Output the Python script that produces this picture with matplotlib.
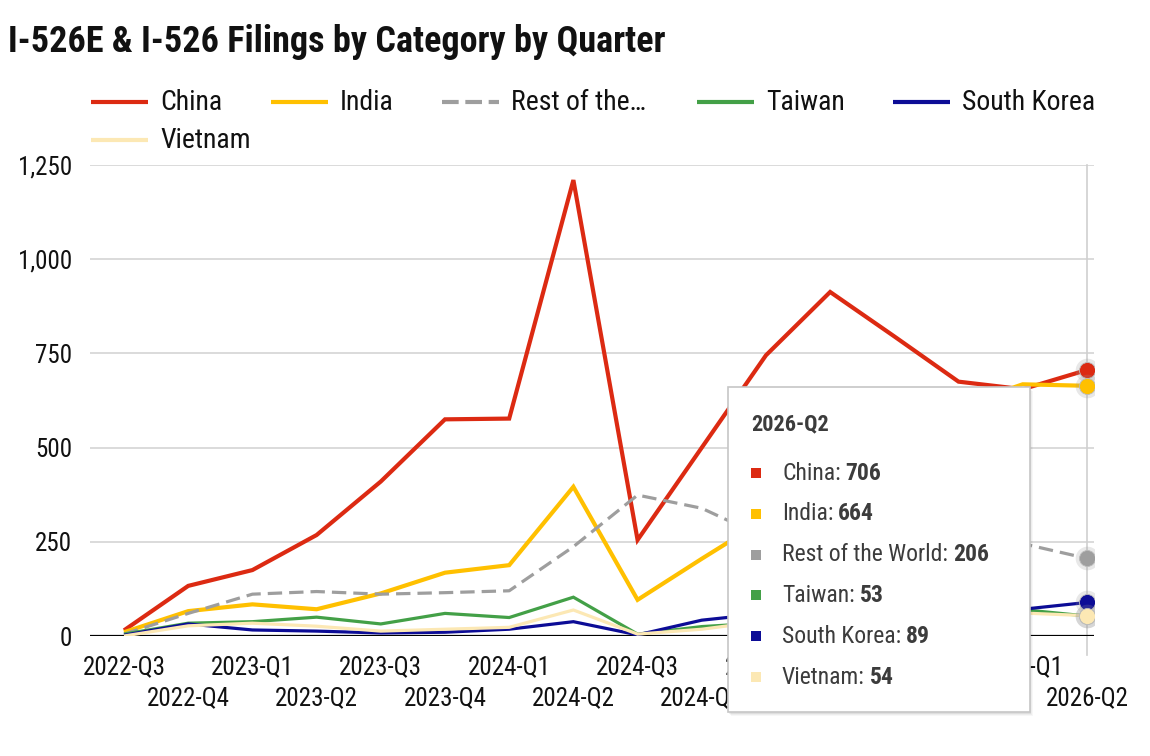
import matplotlib
matplotlib.use("Agg")
import matplotlib.pyplot as plt
from matplotlib.patches import Rectangle

# fonts: condensed Roboto if available
plt.rcParams['font.family'] = ['Roboto Condensed', 'Roboto', 'DejaVu Sans']

# data
quarters = ['2022-Q3', '2022-Q4', '2023-Q1', '2023-Q2', '2023-Q3', '2023-Q4',
            '2024-Q1', '2024-Q2', '2024-Q3', '2024-Q4', '2025-Q1', '2025-Q2',
            '2025-Q3', '2025-Q4', '2026-Q1', '2026-Q2']
china = [15, 133, 175, 268, 410, 575, 577, 1210, 255, 500, 745, 913, 795, 675, 655, 706]
india = [10, 66, 84, 71, 113, 168, 188, 396, 96, 205, 311, 420, 520, 610, 668, 664]
rest_of_world = [5, 60, 111, 118, 111, 115, 120, 237, 374, 339, 260, 290, 270, 255, 245, 206]
taiwan = [5, 34, 38, 50, 32, 60, 49, 103, 5, 25, 35, 45, 55, 62, 70, 53]
south_korea = [2, 32, 16, 13, 8, 10, 18, 38, 3, 42, 60, 55, 60, 65, 71, 89]
vietnam = [0, 27, 34, 26, 13, 18, 23, 69, 5, 18, 40, 45, 50, 55, 61, 54]

names = ['China', 'India', 'Rest of the World', 'Taiwan', 'South Korea', 'Vietnam']
legend_names = ['China', 'India', 'Rest of the\u2026', 'Taiwan', 'South Korea', 'Vietnam']
series = [china, india, rest_of_world, taiwan, south_korea, vietnam]
colors = ['#DC2A12', '#FFC000', '#9E9E9E', '#43A047', '#0C0C96', '#FCE8B4']
widths = [3.0, 3.0, 2.3, 2.3, 2.3, 2.3]
dashed = [False, False, True, False, False, False]
yticks = [0, 250, 500, 750, 1000, 1250]

W, H = 1150, 756
fig = plt.figure(figsize=(W / 100, H / 100), dpi=100)
ax = fig.add_axes([90 / W, (H - 636) / H, (1094 - 90) / W, (636 - 165) / H])

x = list(range(len(quarters)))
for i, (vals, col, lw, dsh) in enumerate(zip(series, colors, widths, dashed)):
    ln, = ax.plot(x, vals, color=col, lw=lw, zorder=3 + i, solid_joinstyle='miter',
                  solid_capstyle='butt')
    if dsh:
        ln.set_dashes((4.5, 2.2))
    # highlighted last point
    ax.plot(x[-1], vals[-1], 'o', ms=17, color='#999999', alpha=0.22, mew=0, zorder=10 + i)
    ax.plot(x[-1], vals[-1], 'o', ms=11.5, color=col, mew=0.6, mec='#bbbbbb', zorder=11 + i)

ax.set_xlim(-0.53, 15.11)
ax.set_ylim(0, 1250)
ax.set_yticks(yticks, labels=[f'{v:,}' for v in yticks])
ax.set_xticks(x, labels=[])
ax.tick_params(axis='both', length=0)
ax.tick_params(axis='y', pad=13, labelsize=18, labelcolor='#111111')
ax.grid(axis='y', color='#d4d4d4', lw=1.2)
ax.set_axisbelow(True)
for s in ax.spines.values():
    s.set_visible(False)
ax.axhline(0, color='black', lw=1.6, zorder=2)
ax.axvline(x[-1], ymin=-0.04, ymax=1.0, color='#cfcfcf', lw=1.2, zorder=1, clip_on=False)

# two-row x labels
for i, q in enumerate(quarters):
    yy = -0.066 if i % 2 == 0 else -0.132
    ax.text(i, yy, q, transform=ax.get_xaxis_transform(), ha='center', va='center',
            fontsize=18, color='#111111')

# title
fig.text(8 / W, 1 - 42 / H, 'I-526E & I-526 Filings by Category by Quarter',
         fontsize=26, fontweight='bold', va='center', ha='left', color='#111111')

# overlay in pixel coords for legend and tooltip
ov = fig.add_axes([0, 0, 1, 1], zorder=20)
ov.set_xlim(0, W)
ov.set_ylim(H, 0)
ov.axis('off')

leg_pos = [(160, 102), (340, 102), (511, 102), (766, 102), (962, 102), (160, 140)]
for (tx, ty), name, col, dsh in zip(leg_pos, legend_names, colors, dashed):
    ln, = ov.plot([tx - 69, tx - 12], [ty, ty], color=col, lw=3.0, solid_capstyle='butt')
    if dsh:
        ln.set_dashes((4, 1.6))
    ov.text(tx, ty, name, fontsize=20, va='center', ha='left', color='#111111')

# tooltip
bx0, by0, bx1, by1 = 728, 387, 1030, 712
for k, a in enumerate([0.06, 0.04, 0.03]):
    ov.add_patch(Rectangle((bx0 + 1 + k, by0 + 2 + k), bx1 - bx0, by1 - by0,
                           facecolor='black', alpha=a, lw=0, zorder=1))
ov.add_patch(Rectangle((bx0, by0), bx1 - bx0, by1 - by0, facecolor='white',
                       edgecolor='#c6c6c6', lw=1.2, zorder=2))
ov.text(751, 424, quarters[-1], fontsize=16, fontweight='bold', color='#3c3c3c',
        va='center', ha='left', zorder=3)
for k, (name, vals, col) in enumerate(zip(names, series, colors)):
    yy = 473 + k * 40.8
    ov.add_patch(Rectangle((751, yy - 5), 10, 10, facecolor=col, lw=0, zorder=3))
    t = ov.text(782, yy, f'{name}:', fontsize=17, color='#3c3c3c', va='center',
                ha='left', zorder=3)
    ov.annotate(f'{vals[-1]:,}', xy=(1, 0), xycoords=t, xytext=(3.5, 0),
                textcoords='offset points', va='bottom', ha='left',
                fontsize=17, fontweight='bold', color='#3c3c3c', zorder=3)

fig.savefig('out.png', dpi=100)
